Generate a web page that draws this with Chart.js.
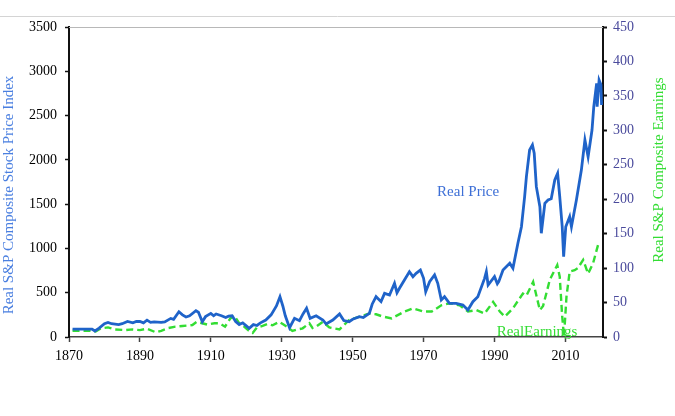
<!DOCTYPE html>
<html>
<head>
<meta charset="utf-8">
<script src="https://cdn.jsdelivr.net/npm/chart.js@4"></script>
<style>
  html, body { margin: 0; padding: 0; background: #fff; }
  #wrap { width: 675px; height: 416px; position: relative; }
</style>
</head>
<body>
<div id="wrap"><canvas id="shillerChart"></canvas></div>
<script>
// Real S&P Composite price index (left axis)
const priceYears = [
  1871, 1874, 1876.5, 1877.3, 1878.5, 1880, 1881, 1882, 1884, 1885, 1886.5, 1888, 1889, 1890,
  1891, 1892, 1893, 1894, 1896, 1897, 1898.7, 1899.5, 1901, 1902, 1903, 1904, 1905.8, 1906.5,
  1907.6, 1908.5, 1910, 1910.8, 1911.5, 1913, 1914.2, 1915, 1916, 1917, 1918, 1919, 1920,
  1920.8, 1922, 1923, 1924, 1925.5, 1927, 1928.5, 1929.5, 1930.3, 1931, 1932.2, 1933.6, 1935,
  1936, 1937, 1938, 1939.7, 1941.6, 1942.5, 1944.4, 1946.3, 1947.5, 1949, 1950, 1951.9, 1953,
  1954.7, 1955.5, 1956.6, 1958, 1959, 1960.4, 1961.8, 1962.5, 1963.2, 1964.6, 1966, 1967,
  1967.9, 1969.1, 1970, 1970.6, 1971.7, 1973.1, 1974, 1975, 1975.9, 1977.3, 1979.2, 1981.1,
  1982.5, 1983.9, 1985.3, 1987.2, 1987.7, 1988.2, 1990, 1990.8, 1991.2, 1992.4, 1994.3, 1995.2,
  1996.6, 1997.6, 1998.5, 1999, 1999.9, 2000.7, 2001.2, 2001.8, 2002.8, 2003.2, 2004.2, 2005.1,
  2006, 2007, 2007.8, 2008.4, 2009.1, 2009.5, 2010.1, 2011.2, 2011.7, 2013.1, 2014.5, 2015.5,
  2016.4, 2017.5, 2018, 2018.8, 2018.95, 2019.5, 2020, 2020.2
];
const priceValues = [
  90, 90, 90, 68, 100, 150, 165, 150, 140, 150, 175, 160, 175, 175,
  160, 190, 165, 170, 165, 170, 210, 200, 285, 250, 226, 240, 297, 280,
  173, 230, 267, 240, 260, 240, 220, 235, 240, 175, 140, 160, 125,
  98, 140, 130, 160, 192, 250, 350, 455, 350, 240, 105, 211, 184,
  260, 324, 210, 240, 192, 147, 192, 260, 185, 173, 200, 229, 220,
  267, 370, 455, 399, 493, 474, 606, 500, 550, 644, 737, 681,
  719, 756, 662, 511, 624, 700, 606, 418, 455, 380, 380, 361,
  305, 399, 455, 662, 737, 587, 681, 600, 624, 756, 832, 775,
  1058, 1245, 1584, 1810, 2111, 2168, 2074, 1697, 1471, 1171, 1509, 1547,
  1560, 1773, 1848, 1584, 1245, 907, 1245, 1358, 1245, 1547, 1885, 2224,
  2035, 2337, 2600, 2864, 2600, 2900, 2850, 2620
];

// Real S&P Composite earnings (right axis)
const earningsYears = [
  1871, 1876, 1877.5, 1879, 1881, 1883, 1886, 1888, 1890, 1892, 1894.5, 1896, 1898, 1900,
  1902, 1904.8, 1906, 1907.6, 1909, 1911, 1912.4, 1914, 1915.5, 1916.6, 1918, 1919, 1920.5,
  1921.8, 1923, 1924.6, 1926, 1927.4, 1929.3, 1930.5, 1931.7, 1933, 1934.5, 1935.9, 1937.8,
  1938.7, 1939.7, 1941.6, 1943.4, 1946.3, 1947.5, 1949, 1952, 1954.7, 1956.6, 1958.6, 1961,
  1964.6, 1967, 1969.9, 1972.3, 1975, 1977.3, 1980.2, 1982.5, 1984.9, 1987.2, 1989.6, 1991.5,
  1992.9, 1995.2, 1998, 1999, 2000.9, 2002.8, 2003.7, 2005.6, 2007.7, 2008.4, 2009.1, 2009.6,
  2010.3, 2011.2, 2012.6, 2013.5, 2015, 2016.4, 2017.8, 2019.2, 2019.7
];
const earningsValues = [
  9, 9, 8, 12.6, 14, 11, 10, 11, 10, 12, 6.8, 9, 13, 15,
  16, 17.4, 22, 20, 18, 20, 20, 15, 27, 31, 20, 17, 10,
  6, 14, 16, 19, 17, 22, 18, 14, 8.7, 11, 12.6, 20,
  13, 15, 22, 14, 11, 17, 24.7, 29.5, 34, 33, 29.5, 27,
  37, 41.7, 37, 37, 46, 49, 46, 37, 39, 34, 51, 37,
  29.5, 41.6, 63, 60, 80, 39, 45, 83, 104.5, 87.5, 29.5, 0.5,
  58.5, 95, 97, 100, 112, 92, 107, 133.5, 136
];

const yearTicks = [1870, 1890, 1910, 1930, 1950, 1970, 1990, 2010];
const priceTicks = [0, 500, 1000, 1500, 2000, 2500, 3000, 3500];
const earningsTicks = [0, 50, 100, 150, 200, 250, 300, 350, 400, 450];

const serif = "'Liberation Serif', 'Times New Roman', serif";

function toPoints(xs, ys) {
  return xs.map((x, i) => ({ x: x, y: ys[i] }));
}

function fixedTicks(list) {
  return function (scale) {
    scale.ticks = list.map((v) => ({ value: v }));
  };
}

// axis titles, in-plot labels and the frame lines
const textPlugin = {
  id: "textPlugin",
  afterDraw(chart) {
    const ctx = chart.ctx;
    const area = chart.chartArea;
    const x = chart.scales.x;
    const yL = chart.scales.yPrice;
    const yR = chart.scales.yEarn;
    ctx.save();

    // light page frame + plot top line
    ctx.strokeStyle = "#d4d4d4";
    ctx.lineWidth = 1;
    ctx.beginPath();
    ctx.moveTo(0, 16.5);
    ctx.lineTo(675, 16.5);
    ctx.stroke();
    ctx.strokeStyle = "#b8b8b8";
    ctx.beginPath();
    ctx.moveTo(area.left, area.top + 0.5);
    ctx.lineTo(area.right, area.top + 0.5);
    ctx.stroke();

    ctx.font = "15px " + serif;
    ctx.textAlign = "center";
    ctx.textBaseline = "middle";

    ctx.save();
    ctx.translate(9, 195);
    ctx.rotate(-Math.PI / 2);
    ctx.fillStyle = "#4a7fe0";
    ctx.fillText("Real S&P Composite Stock Price Index", 0, 0);
    ctx.restore();

    ctx.save();
    ctx.translate(659, 170);
    ctx.rotate(-Math.PI / 2);
    ctx.fillStyle = "#33dd33";
    ctx.fillText("Real S&P Composite Earnings", 0, 0);
    ctx.restore();

    ctx.textAlign = "left";
    ctx.fillStyle = "#3d6fd6";
    ctx.fillText("Real Price", x.getPixelForValue(1973.8), yL.getPixelForValue(1640));
    ctx.fillStyle = "#33dd33";
    ctx.fillText("RealEarnings", x.getPixelForValue(1990.6), yR.getPixelForValue(7));
    ctx.restore();
  },
};

document.addEventListener("DOMContentLoaded", function () {
  const ctx = document.getElementById("shillerChart").getContext("2d");
  new Chart(ctx, {
    type: "line",
    data: {
      datasets: [
        {
          label: "Real Price",
          data: toPoints(priceYears, priceValues),
          yAxisID: "yPrice",
          borderColor: "#1f63c9",
          borderWidth: 2.8,
          pointRadius: 0,
          tension: 0,
        },
        {
          label: "Real Earnings",
          data: toPoints(earningsYears, earningsValues),
          yAxisID: "yEarn",
          borderColor: "#33dd33",
          borderWidth: 2.4,
          borderDash: [7, 4],
          pointRadius: 0,
          tension: 0,
        },
      ],
    },
    options: {
      responsive: true,
      maintainAspectRatio: false,
      animation: false,
      layout: { padding: { top: 27, left: 0, right: 0, bottom: 0 } },
      plugins: {
        legend: { display: false },
        tooltip: { enabled: false },
      },
      scales: {
        x: {
          type: "linear",
          min: 1870,
          max: 2020.6,
          afterBuildTicks: fixedTicks(yearTicks),
          afterFit: (s) => { s.height = 79; },
          border: { color: "#444", width: 1.5 },
          grid: { drawOnChartArea: false, tickLength: 5, color: "#444", tickWidth: 1.5 },
          ticks: {
            color: "#000",
            padding: 6,
            maxRotation: 0,
            font: { family: serif, size: 14 },
            callback: (v) => String(v),
          },
        },
        yPrice: {
          type: "linear",
          position: "left",
          min: 0,
          max: 3500,
          afterBuildTicks: fixedTicks(priceTicks),
          afterFit: (s) => { s.width = 69; },
          border: { color: "#111", width: 2 },
          grid: { drawOnChartArea: false, tickLength: 4, color: "#111", tickWidth: 1.5 },
          ticks: {
            color: "#000",
            padding: 8,
            font: { family: serif, size: 14 },
            callback: (v) => String(v),
          },
        },
        yEarn: {
          type: "linear",
          position: "right",
          min: 0,
          max: 450,
          afterBuildTicks: fixedTicks(earningsTicks),
          afterFit: (s) => { s.width = 72; },
          border: { color: "#111", width: 2 },
          grid: { drawOnChartArea: false, tickLength: 4, color: "#111", tickWidth: 2 },
          ticks: {
            color: "#4a4a9c",
            padding: 6,
            font: { family: serif, size: 14 },
            callback: (v) => String(v),
          },
        },
      },
    },
    plugins: [textPlugin],
  });
});
</script>
</body>
</html>
